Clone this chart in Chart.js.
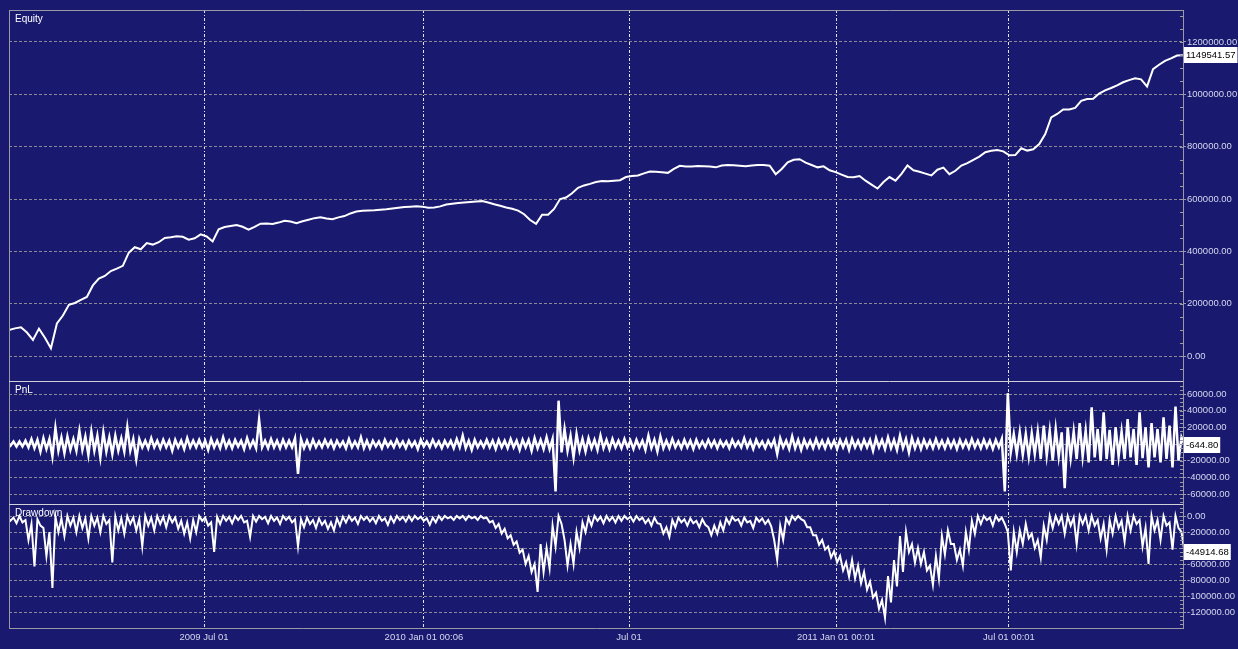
<!DOCTYPE html>
<html>
<head>
<meta charset="utf-8">
<script src="https://cdn.jsdelivr.net/npm/chart.js@4"></script>
<style>
  html, body { margin: 0; padding: 0; background: #191970; }
  #wrap { position: relative; width: 1238px; height: 649px; background: #191970; overflow: hidden; }
  canvas { position: absolute; left: 0; }
</style>
</head>
<body>
<div id="wrap">
  <canvas id="equityChart" width="1238" height="381" style="top:0"></canvas>
  <canvas id="pnlChart" width="1238" height="123" style="top:381px"></canvas>
  <canvas id="ddChart" width="1238" height="145" style="top:504px"></canvas>
</div>
<script>
// equity curve, one value per sample
const equity = [
  100000, 106000, 110000, 90000, 62000, 105000, 70000, 30000, 125000, 155000,
  196000, 203000, 215000, 226000, 270000, 296000, 306000, 325000, 334000, 345000,
  395000, 416000, 408000, 432000, 426000, 435000, 451000, 454000, 458000, 456000,
  445000, 450000, 465000, 457000, 438000, 484000, 493000, 497000, 501000, 494000,
  483000, 494000, 506000, 507000, 505000, 510000, 517000, 514000, 508000, 515000,
  521000, 527000, 530000, 526000, 523000, 530000, 535000, 545000, 552000, 555000,
  556000, 557000, 559000, 561000, 564000, 567000, 570000, 571000, 572000, 571000,
  567000, 568000, 572000, 579000, 582000, 585000, 587000, 589000, 591000, 592000,
  587000, 580000, 574000, 568000, 563000, 556000, 542000, 520000, 505000, 540000,
  540000, 562000, 600000, 606000, 622000, 643000, 652000, 658000, 665000, 669000,
  668000, 670000, 672000, 684000, 688000, 690000, 698000, 705000, 704000, 702000,
  700000, 715000, 727000, 724000, 724000, 726000, 725000, 724000, 721000, 728000,
  730000, 729000, 727000, 725000, 728000, 730000, 730000, 727000, 695000, 715000,
  740000, 750000, 752000, 739000, 730000, 721000, 725000, 710000, 703000, 693000,
  684000, 683000, 688000, 670000, 655000, 640000, 665000, 684000, 670000, 696000,
  728000, 710000, 704000, 697000, 690000, 712000, 720000, 695000, 708000, 728000,
  737000, 750000, 762000, 779000, 784000, 787000, 782000, 767000, 768000, 794000,
  785000, 790000, 810000, 848000, 912000, 925000, 942000, 942000, 948000, 975000,
  982000, 983000, 1003000, 1015000, 1024000, 1034000, 1046000, 1054000, 1061000, 1057000,
  1030000, 1096000, 1113000, 1128000, 1137000, 1148000, 1149541.57
];

// per-sample PnL range (best and worst trade result)
const pnlHigh = [
  2000, 3000, 3000, 4000, 6000, 5000, 7000, 6000, 19000, 8000, 9000,
  6000, 16000, 9000, 15000, 10000, 14000, 8000, 10000, 7000, 20000, 6000,
  6000, 4000, 7000, 4000, 5000, 4000, 5000, 4000, 7000, 4000, 5000,
  4000, 6000, 4000, 8000, 4000, 5000, 4000, 7000, 4000, 29000, 4000,
  6000, 4000, 5000, 4000, 7000, 6000, 4000, 5000, 3000, 5000, 4000,
  4000, 3000, 6000, 3000, 8000, 4000, 4000, 3000, 5000, 3000, 5000,
  3000, 4000, 3000, 5000, 3000, 5000, 3000, 4000, 4000, 6000, 10000,
  4000, 5000, 3000, 5000, 4000, 5000, 4000, 6000, 4000, 5000, 5000,
  7000, 5000, 8000, 6000, 52000, 18000, 10000, 12000, 6000, 7000, 5000,
  10000, 5000, 6000, 4000, 6000, 4000, 5000, 4000, 10000, 5000, 9000,
  4000, 6000, 3000, 5000, 4000, 5000, 3000, 5000, 4000, 4000, 3000,
  5000, 3000, 7000, 4000, 5000, 3000, 4000, 5000, 7000, 4000, 9000,
  5000, 5000, 4000, 6000, 4000, 5000, 4000, 5000, 5000, 6000, 4000,
  5000, 5000, 7000, 5000, 8000, 5000, 10000, 6000, 7000, 5000, 5000,
  4000, 6000, 4000, 5000, 4000, 5000, 4000, 6000, 4000, 5000, 4000,
  5000, 6000, 61000, 12000, 14000, 12000, 13000, 15000, 22000, 16000, 18000,
  14000, 20000, 15000, 25000, 16000, 44000, 18000, 38000, 17000, 20000, 15000,
  30000, 18000, 38000, 20000, 25000, 18000, 32000, 22000, 45000, 8000
];
const pnlLow = [
  -2000, -3000, -3000, -4000, -5000, -9000, -6000, -15000, -8000, -11000, -7000,
  -8000, -7000, -13000, -8000, -16000, -9000, -12000, -8000, -9000, -8000, -18000,
  -4000, -5000, -4000, -5000, -4000, -8000, -4000, -6000, -4000, -4000, -4000,
  -7000, -4000, -5000, -4000, -5000, -3000, -6000, -4000, -5000, -4000, -5000,
  -4000, -5000, -4000, -4000, -36000, -5000, -5000, -4000, -4000, -3000, -5000,
  -3000, -5000, -4000, -4000, -5000, -5000, -3000, -5000, -3000, -4000, -3000,
  -5000, -3000, -6000, -3000, -4000, -3000, -5000, -3000, -5000, -4000, -5000,
  -7000, -4000, -4000, -4000, -6000, -4000, -5000, -4000, -7000, -4000, -8000,
  -5000, -6000, -6000, -57000, -10000, -8000, -16000, -8000, -9000, -5000, -7000,
  -5000, -6000, -4000, -5000, -4000, -6000, -4000, -7000, -5000, -9000, -5000,
  -5000, -4000, -5000, -4000, -6000, -4000, -4000, -3000, -5000, -3000, -5000,
  -3000, -4000, -4000, -6000, -3000, -5000, -3000, -12000, -4000, -6000, -5000,
  -7000, -4000, -5000, -4000, -5000, -4000, -6000, -4000, -7000, -4000, -5000,
  -4000, -8000, -4000, -6000, -5000, -7000, -5000, -10000, -5000, -6000, -4000,
  -5000, -4000, -5000, -4000, -6000, -4000, -5000, -4000, -5000, -4000, -6000,
  -4000, -57000, -10000, -12000, -13000, -15000, -12000, -18000, -14000, -20000, -15000,
  -53000, -16000, -18000, -15000, -22000, -16000, -20000, -18000, -25000, -15000, -18000,
  -16000, -25000, -17000, -28000, -16000, -22000, -18000, -28000, -20000, -644.80
];
const pnlLast = -644.80;

// per-sample drawdown range (shallowest and deepest)
const ddHigh = [
  -1000, -2000, 0, -5000, -10000, -4000, -15000, -20000, -1000, -3000,
  0, -2000, 0, -3000, 0, -2000, 0, -5000, -1000, -3000,
  0, -2000, -4000, 0, -2000, 0, -1000, 0, -2000, -6000,
  -8000, -5000, 0, -2000, -8000, -1000, 0, -1000, 0, 0,
  -6000, 0, 0, -1000, 0, -2000, 0, -1000, -4000, -4000,
  -2000, -5000, -3000, -6000, -8000, -3000, -1000, 0, -2000, 0,
  -1000, -2000, 0, -3000, -1000, 0, -1000, 0, 0, -1000,
  -3000, -2000, 0, 0, -1000, 0, 0, 0, -1000, 0,
  -2000, -6000, -10000, -16000, -24000, -32000, -42000, -50000, -60000, -35000,
  -40000, -12000, 0, -30000, -35000, -20000, -8000, -2000, 0, -1000,
  0, -1000, 0, 0, -1000, 0, -2000, -4000, -2000, -10000,
  -14000, -5000, -2000, -4000, -3000, -6000, -4000, -14000, -12000, -8000,
  -3000, -1000, -4000, -2000, -6000, -2000, -3000, -5000, -30000, -12000,
  -3000, 0, 0, -6000, -14000, -24000, -30000, -38000, -44000, -50000,
  -58000, -55000, -62000, -70000, -82000, -96000, -105000, -75000, -55000, -25000,
  -20000, -35000, -40000, -45000, -62000, -50000, -25000, -18000, -35000, -42000,
  -20000, -6000, 0, 0, -2000, 0, -2000, -20000, -20000, -18000,
  -10000, -22000, -30000, -12000, 0, 0, 0, 0, -2000, 0,
  0, 0, -5000, -10000, -5000, 0, -6000, 0, 0, -5000,
  -15000, 0, -5000, 0, -8000, 0, -20000
];
const ddLow = [
  -6000, -9000, -8000, -30000, -63000, -12000, -50000, -90000, -20000, -25000,
  -12000, -20000, -15000, -28000, -12000, -20000, -10000, -58000, -18000, -22000,
  -10000, -18000, -38000, -12000, -18000, -10000, -14000, -8000, -16000, -22000,
  -28000, -20000, -6000, -12000, -45000, -10000, -6000, -9000, -5000, -8000,
  -26000, -7000, -4000, -9000, -6000, -10000, -5000, -8000, -38000, -14000,
  -10000, -15000, -11000, -16000, -18000, -12000, -8000, -6000, -10000, -5000,
  -7000, -9000, -6000, -11000, -8000, -5000, -7000, -6000, -4000, -6000,
  -11000, -8000, -5000, -3000, -5000, -3000, -5000, -3000, -5000, -3000,
  -8000, -15000, -22000, -28000, -36000, -46000, -60000, -70000, -95000, -70000,
  -65000, -38000, -10000, -62000, -60000, -40000, -20000, -12000, -6000, -9000,
  -6000, -8000, -6000, -4000, -7000, -5000, -9000, -12000, -9000, -22000,
  -26000, -14000, -8000, -12000, -9000, -14000, -11000, -24000, -22000, -18000,
  -10000, -6000, -12000, -8000, -15000, -7000, -10000, -13000, -55000, -30000,
  -10000, -5000, -4000, -14000, -24000, -36000, -42000, -52000, -58000, -68000,
  -76000, -78000, -84000, -92000, -102000, -116000, -127000, -108000, -88000, -70000,
  -45000, -58000, -60000, -68000, -86000, -78000, -48000, -35000, -55000, -62000,
  -42000, -22000, -10000, -5000, -12000, -6000, -10000, -68000, -45000, -35000,
  -28000, -40000, -52000, -30000, -15000, -10000, -22000, -12000, -35000, -10000,
  -18000, -12000, -28000, -42000, -22000, -15000, -32000, -18000, -10000, -38000,
  -60000, -18000, -30000, -12000, -42000, -15000, -44914.68
];

// axis ticks
const equityTicks = [0, 200000, 400000, 600000, 800000, 1000000, 1200000];
const pnlTicks = [-60000, -40000, -20000, 0, 20000, 40000, 60000];
const ddTicks = [-120000, -100000, -80000, -60000, -40000, -20000, 0];
// date ticks sit at these sample positions
const xTickPos = [32.56, 69.28, 103.51, 138.07, 166.95];
const xTickLabels = ["2009 Jul 01", "2010 Jan 01 00:06", "Jul 01", "2011 Jan 01 00:01", "Jul 01 00:01"];

const sampleIdx = equity.map((_, i) => i);
// each sample is drawn as a short high -> low stroke
const rangePoints = (hi, lo) =>
  hi.flatMap((h, i) => [{ x: i - 0.25, y: h }, { x: i + 0.25, y: lo[i] }]);

const FONT = '"Liberation Sans", Arial, sans-serif';
const FONT_SIZE = 9.5;
const TEXT = "#d4d8ee";
const GRID = "#8a8a96";
const AXIS = "#9a9aa6";

const panelDecor = {
  id: "panelDecor",
  afterDraw(chart, args, opts) {
    const { ctx, chartArea: a } = chart;
    const y = chart.scales.y;
    ctx.save();
    // small minor ticks inside the right axis
    ctx.strokeStyle = AXIS;
    ctx.lineWidth = 1;
    for (let v = Math.ceil(y.min / opts.minor) * opts.minor; v <= y.max; v += opts.minor) {
      const py = Math.round(y.getPixelForValue(v)) + 0.5;
      ctx.beginPath();
      ctx.moveTo(a.right - 3, py);
      ctx.lineTo(a.right, py);
      ctx.stroke();
    }
    // left border
    ctx.beginPath();
    ctx.moveTo(a.left + 0.5, a.top);
    ctx.lineTo(a.left + 0.5, a.bottom);
    ctx.stroke();
    // top border / panel separator
    ctx.strokeStyle = opts.topColor;
    ctx.beginPath();
    ctx.moveTo(a.left, a.top + 0.5);
    ctx.lineTo(a.right, a.top + 0.5);
    ctx.stroke();
    // panel title
    ctx.fillStyle = "#ffffff";
    ctx.font = "10px " + FONT;
    ctx.textBaseline = "middle";
    ctx.textAlign = "left";
    ctx.fillText(opts.title, a.left + 6, a.top + 9);
    // last value box
    ctx.font = FONT_SIZE + "px " + FONT;
    const py = Math.round(y.getPixelForValue(opts.last));
    const txt = opts.last.toFixed(2);
    const w = ctx.measureText(txt).width + 4;
    ctx.fillStyle = "#ffffff";
    ctx.fillRect(a.right + 1, py - 8, w, 16);
    ctx.fillStyle = "#000000";
    ctx.fillText(txt, a.right + 3, py);
    ctx.restore();
  },
};

function xScale(showLabels) {
  return {
    type: "linear",
    min: 0,
    max: equity.length - 1,
    offset: false,
    bounds: "data",
    afterBuildTicks: (scale) => {
      scale.ticks = xTickPos.map((value) => ({ value }));
    },
    afterFit: (scale) => {
      scale.height = showLabels ? 21 : 0;
      scale.paddingLeft = 0;
      scale.paddingRight = 0;
    },
    grid: {
      offset: false,
      color: "#e6e6ee",
      lineWidth: 1,
      drawTicks: false,
    },
    border: { display: showLabels, color: AXIS, dash: [3, 2, 1, 2] },
    ticks: {
      display: showLabels,
      autoSkip: false,
      maxRotation: 0,
      padding: 4,
      color: TEXT,
      font: { family: FONT, size: FONT_SIZE },
      callback: (value, index) => xTickLabels[index],
    },
  };
}

function yScale(min, max, tickValues) {
  return {
    type: "linear",
    position: "right",
    min,
    max,
    afterBuildTicks: (scale) => {
      scale.ticks = tickValues.map((value) => ({ value }));
    },
    afterFit: (scale) => {
      scale.width = 55;
      scale.paddingTop = 0;
      scale.paddingBottom = 0;
    },
    grid: {
      color: GRID,
      lineWidth: 1,
      tickColor: AXIS,
      tickLength: 3,
      tickBorderDash: [],
    },
    border: { display: true, color: AXIS, dash: [3, 2] },
    ticks: {
      padding: 1,
      color: TEXT,
      font: { family: FONT, size: FONT_SIZE },
      callback: (v) => Number(v).toFixed(2),
    },
  };
}

function baseOptions(decor, showX, y, pad) {
  return {
    responsive: false,
    animation: false,
    layout: { padding: pad },
    plugins: {
      legend: { display: false },
      tooltip: { enabled: false },
      panelDecor: decor,
    },
    scales: { x: xScale(showX), y },
  };
}

Chart.register(panelDecor);

new Chart(document.getElementById("equityChart"), {
  type: "line",
  data: {
    labels: sampleIdx,
    datasets: [
      {
        data: equity,
        borderColor: "#ffffff",
        borderWidth: 2,
        pointRadius: 0,
        tension: 0,
      },
    ],
  },
  options: baseOptions(
    { title: "Equity", minor: 50000, last: equity[equity.length - 1], topColor: AXIS },
    false,
    yScale(-95000, 1322000, equityTicks),
    { left: 9, top: 10, right: 0, bottom: 0 }
  ),
});

new Chart(document.getElementById("pnlChart"), {
  type: "line",
  data: {
    datasets: [
      {
        data: rangePoints(pnlHigh, pnlLow),
        borderColor: "#ffffff",
        borderWidth: 2.5,
        pointRadius: 0,
        tension: 0,
      },
    ],
  },
  options: baseOptions(
    { title: "PnL", minor: 5000, last: pnlLast, topColor: "#d0d0d8" },
    false,
    yScale(-72000, 75600, pnlTicks),
    { left: 9, top: 0, right: 0, bottom: 0 }
  ),
});

new Chart(document.getElementById("ddChart"), {
  type: "line",
  data: {
    datasets: [
      {
        data: rangePoints(ddHigh, ddLow),
        borderColor: "#ffffff",
        borderWidth: 2,
        pointRadius: 0,
        tension: 0,
      },
    ],
  },
  options: baseOptions(
    { title: "Drawdown", minor: 5000, last: ddLow[ddLow.length - 1], topColor: "#d0d0d8" },
    true,
    yScale(-140000, 15000, ddTicks),
    { left: 9, top: 0, right: 0, bottom: 0 }
  ),
});
</script>
</body>
</html>
